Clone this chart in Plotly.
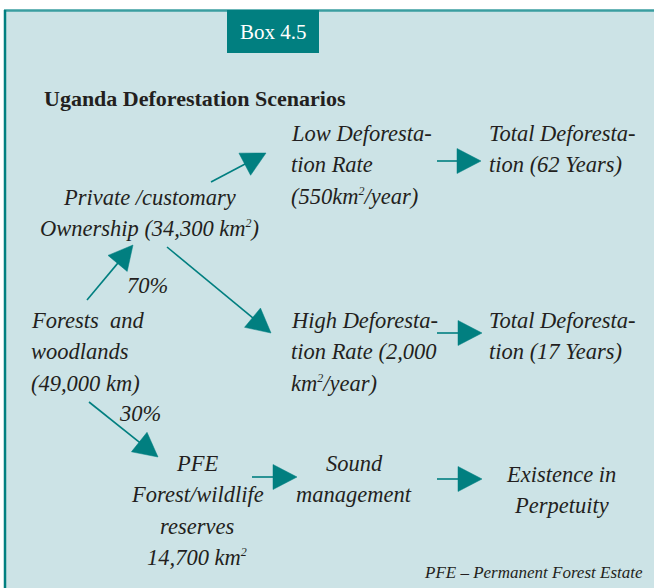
import numpy as np
import plotly.graph_objects as go

# ---- content ----
header_text = "Box 4.5"
title_text = "Uganda Deforestation Scenarios"
footnote_text = "PFE – Permanent Forest Estate"

SUP2 = "<sup><span style='font-size:12px'>2</span></sup>"
node_lines = [
    ["Low Deforesta-", "tion Rate", "(550km" + SUP2 + "/year)"],
    ["Total Deforesta-", "tion (62 Years)"],
    ["Private /customary", "Ownership (34,300 km" + SUP2 + ")"],
    ["Forests  and", "woodlands", "(49,000 km)"],
    ["High Deforesta-", "tion Rate (2,000", "km" + SUP2 + "/year)"],
    ["Total Deforesta-", "tion (17 Years)"],
    ["PFE", "Forest/wildlife", "reserves", "14,700 km" + SUP2],
    ["Sound", "management"],
    ["Existence in", "Perpetuity"],
]
node_x = [289, 487, 149, 29, 289, 487, 197, 354, 561]
node_y = [133, 133, 197, 320, 320, 320, 463, 463, 474]
node_anchor = ["left", "left", "center", "left", "left", "left", "center", "center", "center"]

pct_labels = ["70%", "30%"]
pct_x = [147, 140]
pct_y = [285, 413]

arrow_x0 = [211, 87, 167, 89, 437, 437, 252, 437]
arrow_y0 = [182, 300, 247, 402, 161, 333, 477, 479]
arrow_x1 = [266, 133, 271, 158, 481, 482, 297, 482]
arrow_y1 = [153, 245, 333, 457, 161, 333, 477, 479]

TEAL = "#017f80"
BG = "#cce3e6"
LINE_H = 31.5

fig = go.Figure()

# arrows
head_len, head_half = 24, 12.5
for x0, y0, x1, y1 in zip(arrow_x0, arrow_y0, arrow_x1, arrow_y1):
    d = np.array([x1 - x0, y1 - y0], dtype=float)
    u = d / np.linalg.norm(d)
    n = np.array([-u[1], u[0]])
    tip = np.array([x1, y1], dtype=float)
    base = tip - u * head_len
    p1 = base + n * head_half
    p2 = base - n * head_half
    fig.add_trace(go.Scatter(x=[x0, base[0] + u[0] * 2], y=[y0, base[1] + u[1] * 2], mode="lines",
                             line=dict(color=TEAL, width=1.6), hoverinfo="skip", showlegend=False))
    fig.add_trace(go.Scatter(x=[tip[0], p1[0], p2[0], tip[0]], y=[tip[1], p1[1], p2[1], tip[1]],
                             mode="lines", fill="toself", fillcolor=TEAL, line=dict(color=TEAL, width=0.5),
                             hoverinfo="skip", showlegend=False))

ann = []
ifont = dict(family="Liberation Serif", size=22.5, color="#231f20", style="italic")
for lines, x, y, a in zip(node_lines, node_x, node_y, node_anchor):
    for i, t in enumerate(lines):
        ann.append(dict(x=x, y=y + i * LINE_H, text=t, showarrow=False, xanchor=a, yanchor="middle",
                        font=ifont, xref="x", yref="y"))
for t, x, y in zip(pct_labels, pct_x, pct_y):
    ann.append(dict(x=x, y=y, text=t, showarrow=False, xanchor="center", yanchor="middle", font=ifont))

ann.append(dict(x=42, y=98, text="<b>" + title_text + "</b>", showarrow=False, xanchor="left", yanchor="middle",
                font=dict(family="Liberation Serif", size=22, color="#231f20")))
ann.append(dict(x=273, y=32, text=header_text, showarrow=False, xanchor="center", yanchor="middle",
                font=dict(family="Liberation Serif", size=21, color="white")))
ann.append(dict(x=645, y=572, text=footnote_text, showarrow=False, xanchor="right", yanchor="middle",
                font=dict(family="Liberation Serif", size=17, color="#231f20", style="italic")))

shapes = [
    dict(type="rect", x0=4, x1=700, y0=10, y1=700, fillcolor=BG, line=dict(width=0), layer="below"),
    dict(type="line", x0=4, x1=700, y0=10.5, y1=10.5, line=dict(color="#3a9ea0", width=2.5), layer="below"),
    dict(type="line", x0=5, x1=5, y0=10, y1=700, line=dict(color=TEAL, width=2.5), layer="below"),
    dict(type="rect", x0=227, x1=319, y0=10, y1=53, fillcolor=TEAL, line=dict(width=0), layer="below"),
]

fig.update_layout(
    width=654, height=588, margin=dict(l=0, r=0, t=0, b=0),
    paper_bgcolor="white", plot_bgcolor="white",
    xaxis=dict(range=[0, 654], visible=False, fixedrange=True),
    yaxis=dict(range=[588, 0], visible=False, fixedrange=True),
    annotations=ann, shapes=shapes, showlegend=False,
)
fig.write_html("out.html", config={"displayModeBar": False},
               post_script="document.body.style.margin='0';document.body.style.overflow='hidden';")
